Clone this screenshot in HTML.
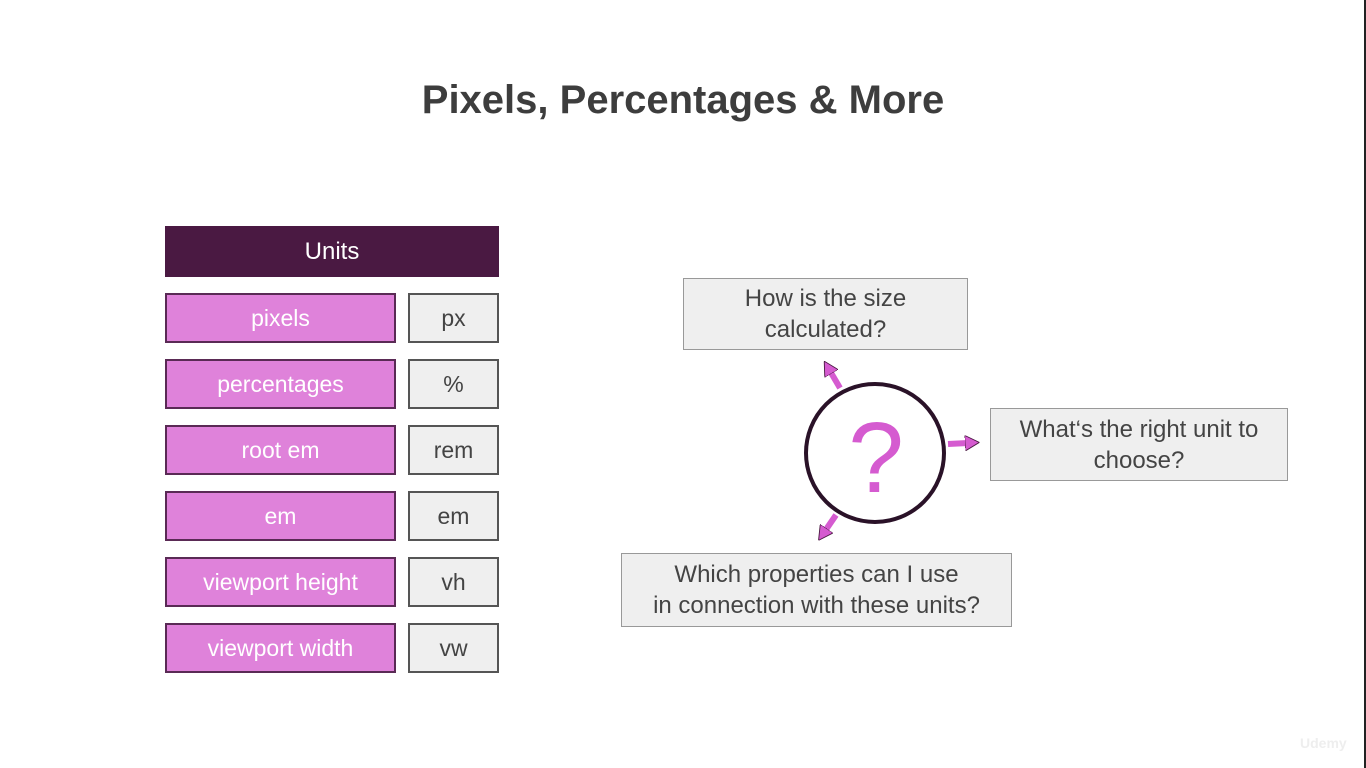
<!DOCTYPE html>
<html><head><meta charset="utf-8"><style>
body{margin:0;width:1366px;height:768px;background:#fff;position:relative;overflow:hidden;font-family:"Liberation Sans",sans-serif}
.a{position:absolute;box-sizing:border-box;display:flex;align-items:center;justify-content:center;text-align:center}
.p{background:#df82da;border:2px solid #5a2a55;color:#fff;font-size:23px}
.g{background:#efefef;border:2px solid #555;color:#444;font-size:23px}
.q{background:#efefef;border:1.5px solid #999;color:#444;font-size:24px;line-height:31px}
</style></head><body>
<div class="a" style="left:0;top:75px;width:1366px;height:50px;font-size:40px;font-weight:bold;color:#3d3d3d">Pixels, Percentages &amp; More</div>
<div class="a" style="left:165px;top:226px;width:334px;height:51px;background:#4a1942;color:#fff;font-size:24px">Units</div>
<div class="a p" style="left:165px;top:293px;width:231px;height:50px">pixels</div>
<div class="a g" style="left:408px;top:293px;width:91px;height:50px">px</div>
<div class="a p" style="left:165px;top:359px;width:231px;height:50px">percentages</div>
<div class="a g" style="left:408px;top:359px;width:91px;height:50px">%</div>
<div class="a p" style="left:165px;top:425px;width:231px;height:50px">root em</div>
<div class="a g" style="left:408px;top:425px;width:91px;height:50px">rem</div>
<div class="a p" style="left:165px;top:491px;width:231px;height:50px">em</div>
<div class="a g" style="left:408px;top:491px;width:91px;height:50px">em</div>
<div class="a p" style="left:165px;top:557px;width:231px;height:50px">viewport height</div>
<div class="a g" style="left:408px;top:557px;width:91px;height:50px">vh</div>
<div class="a p" style="left:165px;top:623px;width:231px;height:50px">viewport width</div>
<div class="a g" style="left:408px;top:623px;width:91px;height:50px">vw</div>
<div class="a q" style="left:683px;top:278px;width:285px;height:72px">How is the size<br>calculated?</div>
<div class="a q" style="left:990px;top:408px;width:298px;height:73px">What‘s the right unit to<br>choose?</div>
<div class="a q" style="left:621px;top:553px;width:391px;height:74px">Which properties can I use<br>in connection with these units?</div>
<svg style="position:absolute;left:0;top:0" width="1366" height="768">
<defs><marker id="m" markerWidth="2.4" markerHeight="2.6" refX="0.5" refY="1.3" orient="auto"><path d="M0,0L2.4,1.3L0,2.6Z" fill="#d55bd0" stroke="#4a1942" stroke-width="0.15"/></marker></defs>
<g stroke="#d55bd0" stroke-width="6" marker-end="url(#m)">
<line x1="840" y1="388" x2="830" y2="371"/>
<line x1="948" y1="444" x2="968" y2="443"/>
<line x1="836" y1="515" x2="825" y2="531"/>
</g>
<circle cx="875" cy="453" r="69" fill="#fff" stroke="#2a1228" stroke-width="4"/>
<text x="876" y="492" text-anchor="middle" font-family="Liberation Sans,sans-serif" font-size="100" fill="#d55bd0">?</text>
<text x="1300" y="748" font-family="Liberation Sans,sans-serif" font-size="14" font-weight="bold" fill="#eee">Udemy</text>
<rect x="1364" y="0" width="2" height="768" fill="#222"/>
</svg>
</body></html>
